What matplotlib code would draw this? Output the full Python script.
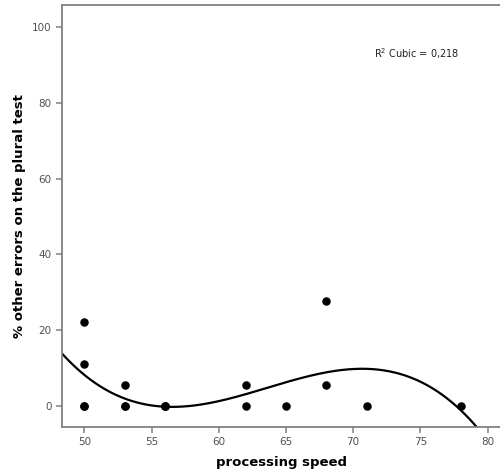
import numpy as np
import matplotlib.pyplot as plt

# processing speed vs % other errors on the plural test (overlapping points repeated)
speed = [50, 50, 50, 50, 53, 53, 53, 56, 56, 56, 62, 62, 65, 68, 68, 71, 78]
errors = [0, 0, 11.11, 22.22, 0, 0, 5.56, 0, 0, 0, 0, 5.56, 0, 5.56, 27.78, 0, 0]
x_ticks = [50, 55, 60, 65, 70, 75, 80]
y_ticks = [0, 20, 40, 60, 80, 100]

x = np.array(speed, dtype=float)
y = np.array(errors, dtype=float)

# cubic fit
coef = np.polyfit(x, y, 3)
fit = np.poly1d(coef)
r2 = 1 - np.sum((y - fit(x)) ** 2) / np.sum((y - y.mean()) ** 2)

fig = plt.figure(figsize=(5, 4.74), dpi=100)
ax = fig.add_axes([62 / 500, 1 - 427 / 474, 1 - 62 / 500 + 0.002, (427 - 5) / 474])

xs = np.linspace(48.3, 81, 400)
ax.plot(xs, fit(xs), color="black", lw=1.6, zorder=2)
ax.scatter(x, y, s=26, color="black", zorder=3)

ax.set_xlim(48.34, 81.0)
ax.set_ylim(-5.5, 105.8)
ax.set_xticks(x_ticks)
ax.set_yticks(y_ticks)

for s in ax.spines.values():
    s.set_color("#808080")
    s.set_linewidth(1.3)
ax.tick_params(colors="#808080", labelcolor="#505050", labelsize=7.5,
               length=4, width=1.1)

ax.set_xlabel("processing speed", fontsize=9.5, fontweight="bold", labelpad=6)
ax.set_ylabel("% other errors on the plural test", fontsize=9.5,
              fontweight="bold", labelpad=4)

r2_text = ("R$^2$ Cubic = %.3f" % r2).replace(".", ",")
ax.text(0.71, 0.886, r2_text, transform=ax.transAxes, va="center",
        fontsize=7, color="#202020")

fig.savefig("out.png", dpi=100)
